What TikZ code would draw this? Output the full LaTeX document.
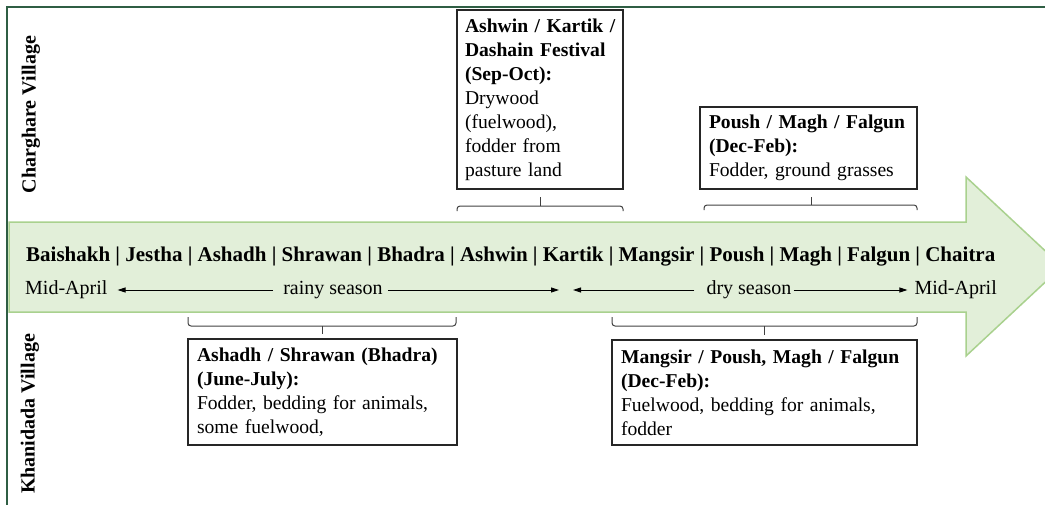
\documentclass[tikz,border=0pt]{standalone}
\usepackage{fontspec}
\setmainfont{Liberation Serif}
\usetikzlibrary{arrows.meta}
\definecolor{framegreen}{RGB}{47,94,68}
\definecolor{arrowfill}{RGB}{226,239,217}
\definecolor{arrowedge}{RGB}{169,209,142}
\newcommand{\bl}[1]{\mbox{\textbf{#1}}}
\newcommand{\nl}[1]{\mbox{#1}}
\begin{document}
\begin{tikzpicture}[x=1pt,y=-1pt,
  infobox/.style={draw=black!85,line width=1.1pt,fill=white,align=left,inner xsep=9pt,inner ysep=0pt,font=\fontsize{19.6}{24}\selectfont,anchor=center},
  seas/.style={font=\fontsize{20}{24}\selectfont,inner sep=0pt},
  tl/.style={line width=0.9pt,-{Triangle[length=8pt,width=5pt]}},
  wbrace/.style={draw=black!75,line width=1pt},
  village/.style={rotate=90,font=\bfseries\fontsize{20}{24}\selectfont,inner sep=0pt}]
\useasboundingbox (0,0) rectangle (1045,504);
\clip (0,0) rectangle (1045,504);
% big timeline arrow
\filldraw[fill=arrowfill, draw=arrowedge, line width=1.5pt]
  (9,222) -- (966,222) -- (966,177) -- (1062,266.5) -- (966,356) -- (966,312) -- (9,312) -- cycle;
% outer frame
\draw[framegreen, line width=2pt] (7,7) rectangle (1060,520);
% months
\node[font=\bfseries\fontsize{21}{25}\selectfont, inner sep=0pt, anchor=west] (months) at (26,257)
  {Baishakh | Jestha | Ashadh | Shrawan | Bhadra | Ashwin | Kartik | Mangsir | Poush | Magh | Falgun | Chaitra};
% seasons
\node[seas,anchor=west] (mida) at (25,290) {Mid-April};
\node[seas] (rainy) at (333,290) {rainy season};
\coordinate (rainend) at (559,290);
\coordinate (drystart) at (573,290);
\node[seas] (dry) at (749,290) {dry season};
\node[seas,anchor=east] (midb) at (997,290) {Mid-April};
\draw[tl, shorten <=10pt, shorten >=10pt] (rainy.west) -- (mida.east);
\draw[tl, shorten <=5pt] (rainy.east) -- (rainend);
\draw[tl, shorten <=12pt] (dry.west) -- (drystart);
\draw[tl, shorten <=2pt, shorten >=7pt] (dry.east) -- (midb.west);
% village labels
\node[village] (cv) at (31,114.5) {Charghare Village};
\node[village] (kv) at (30,414) {Khanidada Village};
% boxes
\node[infobox, text width=150pt, inner xsep=8pt, minimum height=179pt] (ck) at (540,99.5)
  {\bl{Ashwin / Kartik /}\\\bl{Dashain Festival}\\\bl{(Sep-Oct):}\\\nl{Drywood}\\\nl{(fuelwood),}\\\nl{fodder from}\\\nl{pasture land}};
\node[infobox, text width=199pt, minimum height=82pt] (cp) at (808.5,148)
  {\bl{Poush / Magh / Falgun}\\\bl{(Dec-Feb):}\\\nl{Fodder, ground grasses}};
\node[infobox, text width=251pt, minimum height=106pt] (ka) at (322.5,392)
  {\bl{Ashadh / Shrawan (Bhadra)}\\\bl{(June-July):}\\\nl{Fodder, bedding for animals,}\\\nl{some fuelwood,}};
\node[infobox, text width=287pt, minimum height=105pt] (km) at (764.5,392.5)
  {\bl{Mangsir / Poush, Magh / Falgun}\\\bl{(Dec-Feb):}\\\nl{Fuelwood, bedding for animals,}\\\nl{fodder}};
% braces
\draw[wbrace, rounded corners=3pt] (457,211) -- (457,206) -- (623,206) -- (623,211);
\draw[wbrace] (540,206) -- (540,197);
\draw[wbrace, rounded corners=3pt] (704,210) -- (704,205) -- (917,205) -- (917,210);
\draw[wbrace] (811,205) -- (811,197);
\draw[wbrace, rounded corners=3pt] (188,317) -- (188,326) -- (456,326) -- (456,317);
\draw[wbrace] (322,326) -- (322,334);
\draw[wbrace, rounded corners=3pt] (612,317) -- (612,326) -- (917,326) -- (917,317);
\draw[wbrace] (764,326) -- (764,335);
\end{tikzpicture}
\end{document}
